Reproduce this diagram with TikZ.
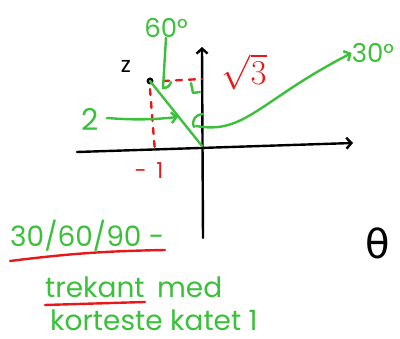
\documentclass[tikz,border=0pt]{standalone}
\usepackage{fontspec}
\setmainfont{Poppins}
\newfontfamily\greekfont{DejaVu Sans}
\usetikzlibrary{arrows.meta,positioning}
\definecolor{penGreen}{RGB}{58,192,58}
\definecolor{penRed}{RGB}{232,24,24}

\begin{document}
\begin{tikzpicture}[x=1pt,y=-1pt,
  ink/.style={line width=2.4pt,line cap=round,line join=round},
  grn/.style={ink,draw=penGreen},
  red/.style={ink,draw=penRed},
  reddash/.style={red,dash pattern=on 6pt off 7pt},
  arrow/.style={-{Straight Barb[length=5pt,width=11pt,line width=2.4pt]}},
  note/.style={text=penGreen,font=\fontsize{28}{32}\selectfont,inner sep=0pt},
  lab/.style={inner sep=0pt,font=\fontsize{26}{30}\selectfont}
]
\useasboundingbox (0,0) rectangle (400,339);

% axes
\coordinate (O) at (202,146);
\draw[ink,arrow] (203,238) -- (202,47);
\draw[ink,arrow] (77,152) -- (353,143);

% the point z and its projections
\coordinate (Z) at (150,81);
\coordinate (Zx) at (155,152);
\coordinate (Zy) at (202,79);
\fill (Z) circle (3.5pt);
\node[lab,font=\fontsize{22}{26}\selectfont] (zlab) at (126,66) {z};
\draw[reddash] ([yshift=-8pt]Z) -- (Zx);
\draw[reddash] ([xshift=13pt]Z) -- (Zy);
\node[lab,text=penRed,font=\fontsize{22}{26}\selectfont] (minusone) at (149,171) {-\, 1};
\node[lab,text=penRed] (rootthree) at (244,72) {\scalebox{1.4}{$\sqrt{3}$}};

% hypotenuse and angles
\draw[grn] (Z) -- (O);
\node[lab,text=penGreen] (sixty) at (166,28) {60°};
\draw[grn] (sixty.south) -- (163,88) to[bend right=40] (171,82);
\draw[grn] (191,83) -- (193,93) -- (200,92);
\node[lab,text=penGreen,font=\fontsize{30}{34}\selectfont] (two) at (90,119) {2};
\draw[grn,arrow] (two.east) ++(8pt,1pt) coordinate (twotail) to[bend right=5] (178,117);
\draw[grn] (203,114) .. controls (196,114) and (191,120) .. (194,127);
\node[lab,text=penGreen] (thirty) at (373,53) {30°};
\draw[grn,arrow] (196,126) .. controls (245,135) and (260,100) .. (thirty.west);

% text
\node[note,anchor=west] (ratio) at (10,236) {30/60/90 -};
\draw[red] (10,261) to[bend left=3] (165,250);
\node[note,anchor=west] (trekant) at (45,287) {trekant};
\node[note,right=12pt of trekant] (med) {med};
\draw[red] (45,305) -- (trekant.south east |- 0,302);
\node[note,anchor=west] (katet) at (50,320) {korteste katet 1};
\node[lab,font=\greekfont\fontsize{40}{44}\selectfont] (theta) at (378,243) {θ};
\end{tikzpicture}
\end{document}
